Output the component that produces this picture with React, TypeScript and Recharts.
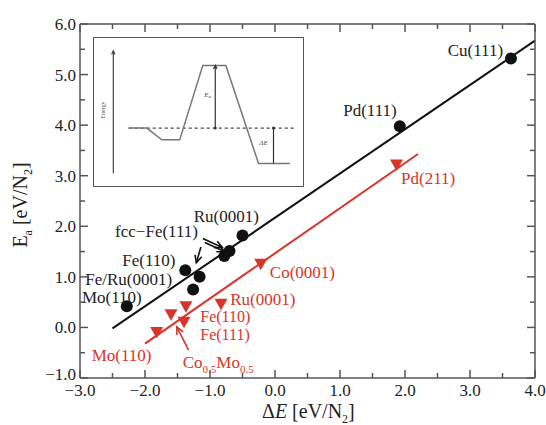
import { ComposedChart, Scatter, XAxis, YAxis, ReferenceLine, ReferenceDot, Line } from "recharts";

// measured points: black = Ea on flat terraces, red = Ea on steps
const blackDE = [-2.28, -1.26, -1.16, -1.38, -0.78, -0.7, -0.5, 1.92, 3.63];
const blackEa = [0.42, 0.75, 1.0, 1.13, 1.41, 1.51, 1.82, 3.98, 5.32];
const redDE = [-1.82, -1.6, -1.37, -1.4, -0.83, -0.22, 1.87];
const redEa = [-0.09, 0.26, 0.42, 0.11, 0.47, 1.26, 3.22];

// linear fits (end points)
const blackFitDE = [-2.5, 4.0];
const blackFitEa = [-0.02, 5.67];
const redFitDE = [-2.0, 2.2];
const redFitEa = [-0.32, 3.43];

const xTicks = [-3, -2.5, -2, -1.5, -1, -0.5, 0, 0.5, 1, 1.5, 2, 2.5, 3, 3.5, 4];
const yTicks = [-1, -0.5, 0, 0.5, 1, 1.5, 2, 2.5, 3, 3.5, 4, 4.5, 5, 5.5, 6];

// annotation labels (text, anchor point in data units)
const labelText = ["Cu(111)", "Pd(111)", "Ru(0001)", "fcc\u2212Fe(111)", "Fe(110)", "Fe/Ru(0001)", "Mo(110)",
  "Pd(211)", "Co(0001)", "Ru(0001)", "Fe(110)", "Fe(111)", "Mo(110)"];
const labelDE = [3.51, 1.05, -1.25, -2.46, -2.35, -2.92, -2.97, 1.94, -0.08, -0.69, -1.15, -1.15, -2.82];
const labelEa = [5.49, 4.29, 2.2, 1.91, 1.34, 0.95, 0.6, 2.96, 1.1, 0.57, 0.21, -0.13, -0.55];
const labelRed = [false, false, false, false, false, false, false, true, true, true, true, true, true];

// arrows: [tailDE, tailEa, headDE, headEa]
const arrows = [
  [-1.14, 1.59, -1.21, 1.28, "#111"],
  [-1.11, 1.76, -0.81, 1.58, "#111"],
  [-1.08, 1.68, -0.78, 1.5, "#111"],
  [-1.33, -0.45, -1.51, 0.01, "#d8342a"],
];

// inset: schematic energy profile
const profX = [1.67, 2.54, 3.26, 4.12, 5.23, 6.34, 7.91, 9.42];
const profY = [3.87, 3.87, 3.07, 3.07, 8.13, 8.13, 1.47, 1.47];

const RED = "#d8342a";
const AX = "#555";
const FONT = "'Liberation Serif', 'Times New Roman', serif";

const blackData = blackDE.map((x, i) => ({ x, y: blackEa[i] }));
const redData = redDE.map((x, i) => ({ x, y: redEa[i] }));
const profData = profX.map((x, i) => ({ x, y: profY[i] }));

const fmt = (v: number) => (v < 0 ? "\u2212" : "") + Math.abs(v).toFixed(1);
const isMajor = (v: number) => Math.abs(v - Math.round(v)) < 1e-6;

const BottomTick = ({ x, y, payload }: any) => {
  const m = isMajor(payload.value);
  return (
    <g>
      <line x1={x} x2={x} y1={y} y2={y - (m ? 8 : 5)} stroke={AX} strokeWidth={1.5} />
      {m && (
        <text x={x} y={y + 18} textAnchor="middle" fontSize={17} fontFamily={FONT} fill="#222">
          {fmt(payload.value)}
        </text>
      )}
    </g>
  );
};
const TopTick = ({ x, y, payload }: any) => {
  const m = isMajor(payload.value);
  return <line x1={x} x2={x} y1={y} y2={y + (m ? 8 : 5)} stroke={AX} strokeWidth={1.5} />;
};
const LeftTick = ({ x, y, payload }: any) => {
  const m = isMajor(payload.value);
  // the lowest label sits a little higher, clear of the x labels
  const lift = payload.value === -1 ? -4 : 0;
  return (
    <g>
      <line x1={x} x2={x + (m ? 8 : 5)} y1={y} y2={y} stroke={AX} strokeWidth={1.5} />
      {m && (
        <text x={x - 4} y={y + lift} dy="0.35em" textAnchor="end" fontSize={17} fontFamily={FONT} fill="#222">
          {fmt(payload.value)}
        </text>
      )}
    </g>
  );
};
const RightTick = ({ x, y, payload }: any) => {
  const m = isMajor(payload.value);
  return <line x1={x} x2={x - (m ? 8 : 5)} y1={y} y2={y} stroke={AX} strokeWidth={1.5} />;
};

const Circle = ({ cx, cy }: any) => <circle cx={cx} cy={cy} r={6} fill="#111" />;
const Tri = ({ cx, cy }: any) => (
  <path d={`M${cx - 6.5},${cy - 5}L${cx + 6.5},${cy - 5}L${cx},${cy + 6.5}Z`} fill={RED} />
);

const arrowShape = (color: string, size = 7, width = 1.3) => (p: any) => {
  const { x1, y1, x2, y2 } = p;
  const a = Math.atan2(y2 - y1, x2 - x1);
  const hx1 = x2 - size * Math.cos(a - 0.45);
  const hy1 = y2 - size * Math.sin(a - 0.45);
  const hx2 = x2 - size * Math.cos(a + 0.45);
  const hy2 = y2 - size * Math.sin(a + 0.45);
  return (
    <g>
      <line x1={x1} y1={y1} x2={x2} y2={y2} stroke={color} strokeWidth={width} />
      <polyline points={`${hx1},${hy1} ${x2},${y2} ${hx2},${hy2}`} fill="none" stroke={color} strokeWidth={width} />
    </g>
  );
};

const textShape = (text: string, color: string, anchor: string, size: number) => (p: any) => (
  <text x={p.cx} y={p.cy} dy="0.35em" textAnchor={anchor} fontSize={size} fontFamily={FONT} fill={color}>
    {text}
  </text>
);

const CoMoShape = (p: any) => (
  <text x={p.cx} y={p.cy} dy="0.35em" fontSize={17} fontFamily={FONT} fill={RED}>
    Co<tspan fontSize={11} dy={5}>0.5</tspan>
    <tspan dy={-5}>Mo</tspan>
    <tspan fontSize={11} dy={5}>0.5</tspan>
  </text>
);

function Inset() {
  return (
    <div
      style={{
        position: "absolute", left: 93, top: 37, width: 211, height: 150,
        border: `1.5px solid ${AX}`, background: "#fff", boxSizing: "border-box",
      }}
    >
      <ComposedChart width={208} height={147} data={profData} margin={{ top: 0, right: 0, bottom: 0, left: 0 }}>
        <XAxis type="number" dataKey="x" domain={[0, 10]} hide />
        <YAxis type="number" domain={[0, 10]} hide />
        <ReferenceLine segment={[{ x: 0.93, y: 0.8 }, { x: 0.93, y: 9.13 }]} shape={arrowShape("#444", 4, 1.2)} />
        <ReferenceLine segment={[{ x: 1.67, y: 3.87 }, { x: 9.73, y: 3.87 }]} stroke="#444" strokeWidth={1.2} strokeDasharray="3 3" />
        <Line dataKey="y" type="linear" stroke="#777" strokeWidth={1.5} dot={false} isAnimationActive={false} />
        <ReferenceLine segment={[{ x: 5.83, y: 3.87 }, { x: 5.83, y: 8.13 }]} shape={arrowShape("#333", 4, 1.2)} />
        <ReferenceLine segment={[{ x: 8.63, y: 3.87 }, { x: 8.63, y: 1.47 }]} stroke="#333" strokeWidth={1.2} />
        <ReferenceDot x={8.63} y={3.87} r={1.5} fill="#333" stroke="none" />
        <ReferenceDot x={5.83} y={3.87} r={1.5} fill="#333" stroke="none" />
        <ReferenceDot
          x={0.55}
          y={5.1}
          shape={(p: any) => (
            <text x={p.cx} y={p.cy} transform={`rotate(-90 ${p.cx} ${p.cy})`} textAnchor="middle" fontSize={6} fontFamily={FONT} fill="#555">
              Energy
            </text>
          )}
        />
        <ReferenceDot
          x={5.46}
          y={6.02}
          shape={(p: any) => (
            <text x={p.cx} y={p.cy} textAnchor="middle" fontSize={7} fontStyle="italic" fontFamily={FONT} fill="#444">
              E<tspan fontSize={5} dy={1}>a</tspan>
            </text>
          )}
        />
        <ReferenceDot
          x={8.15}
          y={2.69}
          shape={(p: any) => (
            <text x={p.cx} y={p.cy} textAnchor="middle" fontSize={7} fontStyle="italic" fontFamily={FONT} fill="#444">
              ΔE
            </text>
          )}
        />
      </ComposedChart>
    </div>
  );
}

export default function App() {
  return (
    <div style={{ position: "absolute", left: 0, top: 0, width: 546, height: 425, background: "#fff" }}>
      <ComposedChart width={546} height={425} margin={{ top: 23, right: 10, bottom: 46, left: 79 }}>
        <XAxis
          xAxisId={0} type="number" dataKey="x" domain={[-3, 4]} ticks={xTicks} interval={0}
          height={1} tickSize={0} tickMargin={0} tickLine={false} tick={<BottomTick />}
          axisLine={{ stroke: AX, strokeWidth: 1.5 }} allowDataOverflow
        />
        <XAxis
          xAxisId="top" orientation="top" type="number" dataKey="x" domain={[-3, 4]} ticks={xTicks} interval={0}
          height={1} tickSize={0} tickMargin={0} tickLine={false} tick={<TopTick />}
          axisLine={{ stroke: AX, strokeWidth: 1.5 }} allowDataOverflow
        />
        <YAxis
          yAxisId={0} type="number" dataKey="y" domain={[-1, 6]} ticks={yTicks} interval={0}
          width={1} tickSize={0} tickMargin={0} tickLine={false} tick={<LeftTick />}
          axisLine={{ stroke: AX, strokeWidth: 1.5 }} allowDataOverflow
        />
        <YAxis
          yAxisId="right" orientation="right" type="number" dataKey="y" domain={[-1, 6]} ticks={yTicks} interval={0}
          width={1} tickSize={0} tickMargin={0} tickLine={false} tick={<RightTick />}
          axisLine={{ stroke: AX, strokeWidth: 1.5 }} allowDataOverflow
        />

        <ReferenceLine
          segment={[{ x: blackFitDE[0], y: blackFitEa[0] }, { x: blackFitDE[1], y: blackFitEa[1] }]}
          stroke="#111" strokeWidth={2}
        />
        <ReferenceLine
          segment={[{ x: redFitDE[0], y: redFitEa[0] }, { x: redFitDE[1], y: redFitEa[1] }]}
          stroke={RED} strokeWidth={2}
        />

        <Scatter data={blackData} shape={<Circle />} isAnimationActive={false} />
        <Scatter data={redData} shape={<Tri />} isAnimationActive={false} />
        <Scatter data={[]} xAxisId="top" yAxisId="right" isAnimationActive={false} />

        {arrows.map((a, i) => (
          <ReferenceLine
            key={"a" + i}
            segment={[{ x: a[0] as number, y: a[1] as number }, { x: a[2] as number, y: a[3] as number }]}
            shape={arrowShape(a[4] as string, 8, 1.6)}
          />
        ))}

        {labelText.map((t, i) => (
          <ReferenceDot
            key={"l" + i}
            x={labelDE[i]}
            y={labelEa[i]}
            shape={textShape(t, labelRed[i] ? RED : "#222", i === 0 ? "end" : "start", i === 10 || i === 11 ? 16 : 17)}
          />
        ))}
        <ReferenceDot x={-1.42} y={-0.68} shape={CoMoShape} />
      </ComposedChart>

      <div style={{ position: "absolute", left: 262, top: 400, fontFamily: FONT, fontSize: 20, color: "#222", whiteSpace: "nowrap" }}>
        Δ<i>E</i> [eV/N<sub style={{ fontSize: 12 }}>2</sub>]
      </div>
      <div
        style={{
          position: "absolute", left: 22, top: 205, fontFamily: FONT, fontSize: 20, color: "#222", whiteSpace: "nowrap",
          transform: "translate(-50%, -50%) rotate(-90deg)",
        }}
      >
        E<sub style={{ fontSize: 12 }}>a</sub> [eV/N<sub style={{ fontSize: 12 }}>2</sub>]
      </div>

      <Inset />
    </div>
  );
}
